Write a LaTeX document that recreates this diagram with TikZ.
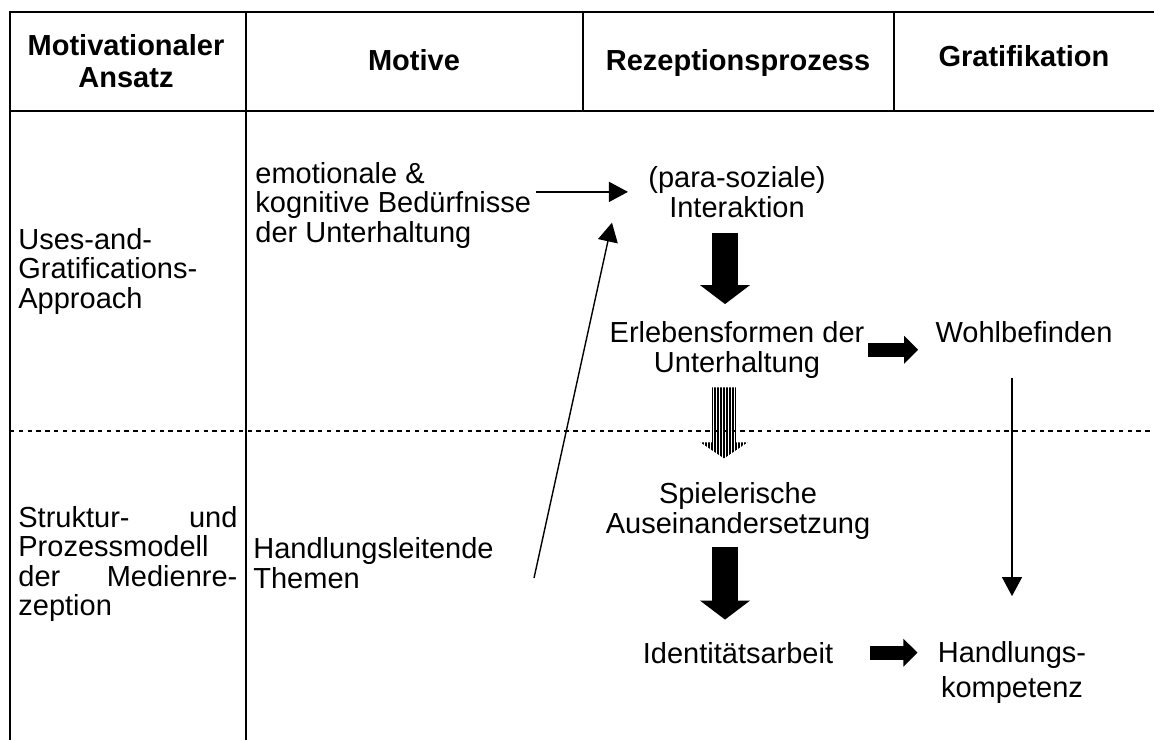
\documentclass[tikz,border=0pt]{standalone}
\usepackage{fontspec}
\setmainfont{Liberation Sans}
\usetikzlibrary{arrows.meta}
\tikzset{
  rule/.style={line width=1pt},
  dashline/.style={line width=0.7pt, dash pattern=on 2.2pt off 2.2pt},
  hd/.style={inner sep=0pt, align=center, font=\bfseries\fontsize{14.5pt}{16pt}\selectfont},
  txt/.style={inner sep=0pt, font=\fontsize{14.5pt}{14.75pt}\selectfont},
  thinarr/.style={line width=0.7pt, -{Triangle[length=9.5pt,width=10pt]}},
  fatdown/.style={line width=13pt, -{Triangle[length=9.5pt,width=24.5pt]}},
  fatright/.style={line width=7pt, -{Triangle[length=7pt,width=13.5pt]}}
}
\begin{document}
\begin{tikzpicture}[x=0.5pt,y=-0.5pt]
\useasboundingbox (0,0) rectangle (1154,740);
\draw[rule] (1154,12) -- (10,12) -- (10,740);
\draw[rule] (10,111) -- (1154,111);
\draw[rule] (246,12) -- (246,740);
\foreach \x in {583,894}{
\draw[rule] (\x,12) -- (\x,111);
}
\draw[dashline] (10,431) -- (1154,431);

\node[hd, anchor=base] (hAnsatz) at (126,87) {Motivationaler\\Ansatz};
\node[hd, anchor=base] (hMotive) at (414,70) {Motive};
\node[hd, anchor=base] (hRez) at (738,70) {Rezeptionsprozess};
\node[hd, anchor=base] (hGrat) at (1024,66) {Gratifikation};

\node[txt, align=left, anchor=base west] (uga) at (18,308) {Uses-and-\\Gratifications-\\Approach};
\node[txt, align=left, text width=109.5pt, anchor=base west] (spm) at (18,527) {Struktur-\hfill und\\Prozessmodell\\der\hfill Medienre-\\zeption};
\node[txt, align=left, anchor=base west] (bed) at (255,242) {emotionale \&\\kognitive Bedürfnisse\\der Unterhaltung};
\node[txt, align=left, anchor=base west] (thm) at (253,588) {Handlungsleitende\\Themen};

\node[txt, align=center, anchor=base] (para) at (737,217) {(para-soziale)\\Interaktion};
\node[txt, align=center, anchor=base] (erl) at (737,372) {Erlebensformen der\\Unterhaltung};
\node[txt, anchor=base] (wohl) at (1024,342) {Wohlbefinden};
\node[txt, align=center, anchor=base] (spiel) at (738,533) {Spielerische\\Auseinandersetzung};
\node[txt, anchor=base] (ident) at (738,663) {Identitätsarbeit};
\node[txt, align=center, anchor=base] (hk) at (1012,697) {Handlungs-\\[2.5pt]kompetenz};

\coordinate (tl) at (534,578);
\draw[thinarr, shorten <=2.5pt, shorten >=10pt] (bed.east |- para.west) -- (para.west);
\draw[thinarr] (tl) -- ([shift={(-36,5)}]para.south west);
\draw[thinarr, shorten <=17.5pt, shorten >=22.5pt] (wohl.south -| hk.north) -- (hk.north);

\draw[fatdown, shorten <=7.5pt, shorten >=8.5pt] ([xshift=-6pt]para.south) -- ([xshift=-6pt]erl.north);
\draw[fatdown, shorten <=4pt, shorten >=11pt] ([xshift=-6.5pt]spiel.south) -- ([xshift=-6.5pt]ident.north);
\draw[fatright, shorten <=1.5pt, shorten >=8.5pt] (erl.east) -- (erl.east -| wohl.west);
\draw[fatright, shorten <=18pt, shorten >=10pt] (ident.east) -- (ident.east -| hk.west);

\coordinate (st) at ([xshift=-6.5pt,yshift=-4.5pt]erl.south);
\begin{scope}
\clip (st) ++(-12,0) -- ++(0,55) -- ++(-11.5,0) -- ++(23.5,16) -- ++(23.5,-16) -- ++(-11.5,0) -- ++(0,-55) -- cycle;
\foreach \i in {0,...,16}{
\draw[line width=0.75pt] ([xshift=\i*1.5pt-12pt]st) -- ++(0,80);
}
\end{scope}
\end{tikzpicture}
\end{document}
